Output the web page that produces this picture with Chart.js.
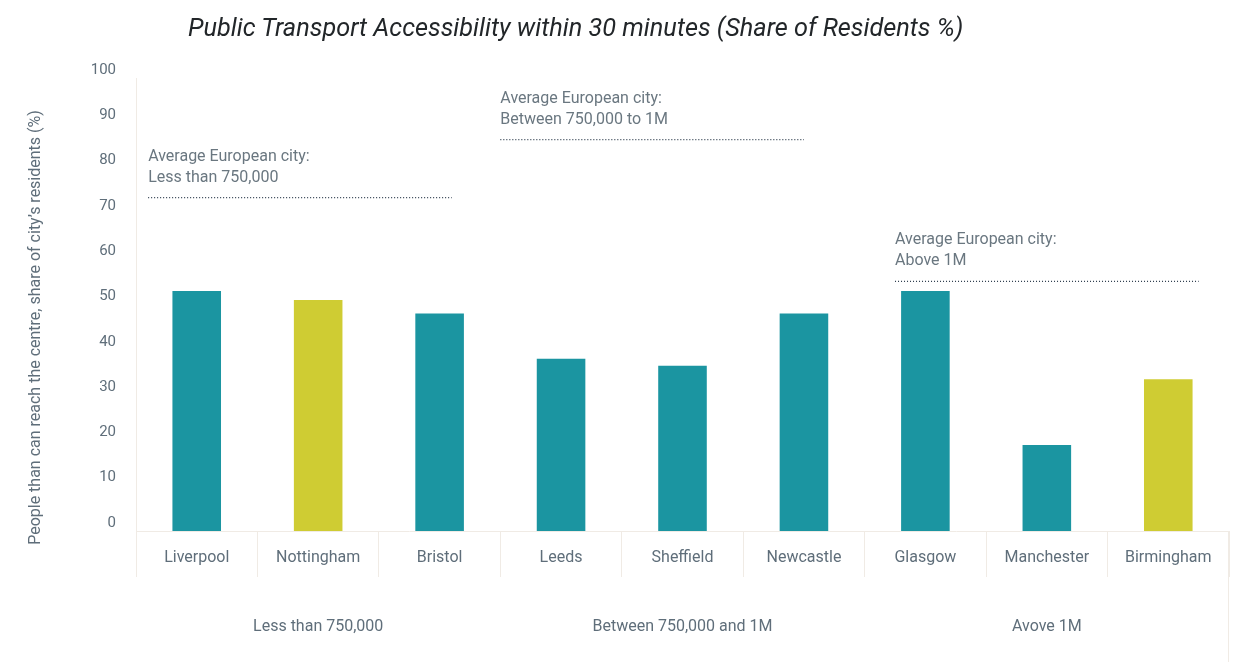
<!DOCTYPE html>
<html lang="en">
<head>
    <meta charset="UTF-8">
    <title>Public Transport Accessibility within 30 minutes</title>
    <script src="https://cdn.jsdelivr.net/npm/chart.js"></script>
    <style>
        body {
            margin: 0;
            background-color: #ffffff;
            font-family: Roboto, sans-serif;
        }
        .wrap {
            position: relative;
            width: 1233px;
            height: 662px;
        }
        .chart-title {
            position: absolute;
            left: 188px;
            top: 13px;
            margin: 0;
            font-size: 25.3px;
            line-height: 1.2;
            font-weight: 400;
            font-style: italic;
            color: #222629;
            white-space: nowrap;
        }
    </style>
</head>
<body>
    <div class="wrap">
        <h1 class="chart-title">Public Transport Accessibility within 30 minutes (Share of Residents %)</h1>
        <canvas id="chart"></canvas>
    </div>

    <script>
        // data
        const cities = ['Liverpool', 'Nottingham', 'Bristol', 'Leeds', 'Sheffield', 'Newcastle', 'Glasgow', 'Manchester', 'Birmingham'];
        const shares = [53, 51, 48, 38, 36.5, 48, 53, 19, 33.5];
        const highlighted = ['Nottingham', 'Birmingham'];
        const groupLabels = ['', 'Less than 750,000', '', '', 'Between 750,000 and 1M', '', '', 'Avove 1M', ''];
        const yTicks = [0, 10, 20, 30, 40, 50, 60, 70, 80, 90, 100];

        // european averages per size band
        const avgValues = [73.6, 86.4, 55.1];
        const avgFrom = [-0.4, 2.5, 5.75];
        const avgTo = [2.1, 5.0, 8.25];
        const avgLabels = [
            ['Average European city:', 'Less than 750,000'],
            ['Average European city:', 'Between 750,000 to 1M'],
            ['Average European city:', 'Above 1M']
        ];

        const yTitle = "People than can reach the centre, share of city\u2019s residents (%)";

        const TEAL = '#1b95a1';
        const LIME = '#cfcc33';
        const TEXT = '#5f6e7a';
        const NOTE = '#6a7780';
        const RULE = '#f0ebe5';

        Chart.defaults.font.family = 'Roboto, sans-serif';
        Chart.defaults.font.size = 16;
        Chart.defaults.color = TEXT;

        const avgDatasets = avgValues.map((v, i) => ({
            type: 'line',
            xAxisID: 'xl',
            yAxisID: 'y',
            data: [{ x: avgFrom[i], y: v }, { x: avgTo[i], y: v }],
            borderColor: '#2e3d4d',
            borderWidth: 1.3,
            borderDash: [1, 2],
            pointRadius: 0,
            fill: false
        }));

        // text above the average lines, the rotated y title and the right frame line
        const extras = {
            id: 'extras',
            afterDatasetsDraw(chart) {
                const ctx = chart.ctx;
                const xl = chart.scales.xl;
                const y = chart.scales.y;
                const x = chart.scales.x;
                ctx.save();
                ctx.font = '16px Roboto, sans-serif';
                ctx.fillStyle = NOTE;
                ctx.textAlign = 'left';
                ctx.textBaseline = 'middle';
                avgValues.forEach((v, i) => {
                    const px = xl.getPixelForValue(avgFrom[i]);
                    const py = y.getPixelForValue(v);
                    ctx.fillText(avgLabels[i][0], px, py - 41);
                    ctx.fillText(avgLabels[i][1], px, py - 20);
                });

                ctx.fillStyle = TEXT;
                ctx.textAlign = 'center';
                ctx.translate(36, (chart.chartArea.top + x.bottom) / 2);
                ctx.rotate(-Math.PI / 2);
                ctx.fillText(yTitle, 0, 0);
                ctx.restore();

                ctx.save();
                ctx.strokeStyle = RULE;
                ctx.lineWidth = 1;
                ctx.beginPath();
                ctx.moveTo(x.right - 0.5, x.top);
                ctx.lineTo(x.right - 0.5, chart.height);
                ctx.stroke();
                ctx.restore();
            }
        };

        new Chart(document.getElementById('chart'), {
            data: {
                labels: cities,
                datasets: [{
                    type: 'bar',
                    xAxisID: 'x',
                    yAxisID: 'y',
                    data: shares,
                    backgroundColor: cities.map(c => highlighted.includes(c) ? LIME : TEAL),
                    grouped: false,
                    barPercentage: 0.4,
                    categoryPercentage: 1
                }, ...avgDatasets]
            },
            options: {
                responsive: true,
                maintainAspectRatio: false,
                animation: false,
                layout: {
                    padding: { top: 78, right: 4, bottom: 0, left: 0 }
                },
                plugins: {
                    legend: { display: false },
                    title: { display: false },
                    tooltip: { enabled: false }
                },
                scales: {
                    x: {
                        type: 'category',
                        position: 'bottom',
                        offset: true,
                        grid: {
                            offset: true,
                            drawOnChartArea: false,
                            drawTicks: true,
                            tickLength: 46,
                            color: RULE
                        },
                        border: { color: RULE },
                        ticks: { padding: -29, color: TEXT, autoSkip: false, maxRotation: 0 },
                        afterFit: s => { s.height = 46; }
                    },
                    grp: {
                        type: 'category',
                        position: 'bottom',
                        labels: groupLabels,
                        offset: true,
                        grid: { display: false, drawTicks: false },
                        border: { display: false },
                        ticks: { padding: 40, color: TEXT, autoSkip: false, maxRotation: 0 },
                        afterFit: s => { s.height = 85; }
                    },
                    xl: {
                        type: 'linear',
                        display: false,
                        min: -0.5,
                        max: cities.length - 0.5
                    },
                    y: {
                        min: yTicks[0],
                        max: yTicks[yTicks.length - 1],
                        afterBuildTicks: s => { s.ticks = yTicks.map(v => ({ value: v })); },
                        grid: { display: false, drawTicks: false },
                        border: { color: RULE },
                        ticks: { padding: 20, labelOffset: -8, color: TEXT, font: { size: 15 } },
                        afterFit: s => { s.width = 136; }
                    }
                }
            },
            plugins: [extras]
        });
    </script>
</body>
</html>
